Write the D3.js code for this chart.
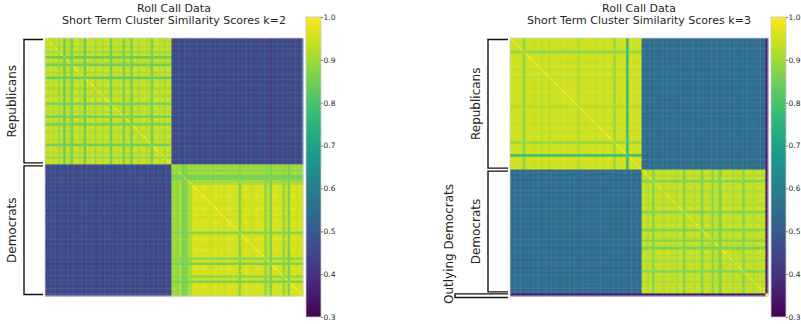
<!DOCTYPE html>
<html>
<head>
<meta charset="utf-8">
<script src="https://cdn.jsdelivr.net/npm/d3@7"></script>
<style>
  body { margin: 0; background: #fff; }
  text { font-family: "DejaVu Sans", sans-serif; fill: #262626; }
</style>
</head>
<body>
<div id="chart"></div>
<script>
const W = 801, H = 324
const vmin = 0.3, vmax = 1.0
const cbTicks = [0.3, 0.4, 0.5, 0.6, 0.7, 0.8, 0.9, 1.0]
const mainTitle = "Roll Call Data"

// k=2 : per-member agreement with own party (loyal) and with the other party (cross)
const k2Groups = ["Republicans", "Democrats"]
const k2RepLoyal = [0.95,0.93,0.96,0.92,0.95,0.90,0.94,0.84,0.95,0.91,
                    0.85,0.95,0.96,0.92,0.94,0.84,0.95,0.93,0.96,0.90,
                    0.95,0.94,0.91,0.95,0.96,0.85,0.93,0.95,0.92,0.96,
                    0.86,0.95,0.93,0.85,0.96,0.94,0.91,0.94,0.96,0.92,
                    0.93,0.85,0.95,0.96,0.92,0.95,0.90,0.96,0.94]
const k2DemLoyal = [0.89,0.90,0.88,0.91,0.85,0.86,0.90,0.91,0.96,0.97,
                    0.95,0.96,0.97,0.96,0.95,0.94,0.96,0.97,0.95,0.96,
                    0.94,0.96,0.97,0.96,0.95,0.96,0.87,0.95,0.97,0.96,
                    0.95,0.94,0.96,0.97,0.95,0.96,0.88,0.95,0.86,0.96,
                    0.97,0.95,0.96,0.88,0.95,0.86,0.96,0.97,0.95,0.96,0.95]
const k2RepCross = [0.46,0.45,0.47,0.46,0.44,0.46,0.47,0.45,0.46,0.44,
                    0.47,0.46,0.45,0.46,0.47,0.44,0.46,0.45,0.47,0.46,
                    0.45,0.46,0.43,0.46,0.47,0.45,0.46,0.44,0.46,0.47,
                    0.45,0.46,0.47,0.45,0.46,0.44,0.46,0.47,0.45,0.46,
                    0.43,0.46,0.45,0.47,0.46,0.44,0.46,0.45,0.46]
const k2DemCross = [0.47,0.46,0.47,0.46,0.45,0.46,0.47,0.46,0.45,0.46,
                    0.44,0.46,0.45,0.46,0.47,0.45,0.46,0.44,0.46,0.45,
                    0.46,0.47,0.45,0.46,0.44,0.46,0.45,0.46,0.47,0.45,
                    0.46,0.44,0.46,0.45,0.46,0.47,0.45,0.46,0.39,0.46,
                    0.45,0.46,0.44,0.46,0.47,0.45,0.46,0.45,0.46,0.44,0.46]

// k=3
const k3Groups = ["Republicans", "Democrats", "Outlying Democrats"]
const k3RepLoyal = [0.95,0.96,0.94,0.95,0.93,0.88,0.95,0.96,0.95,0.94,
                    0.96,0.95,0.93,0.96,0.95,0.93,0.95,0.96,0.94,0.95,
                    0.96,0.95,0.94,0.95,0.96,0.95,0.92,0.95,0.96,0.94,
                    0.95,0.96,0.95,0.93,0.96,0.95,0.94,0.95,0.96,0.95,
                    0.89,0.95,0.94,0.96,0.95,0.78,0.95,0.96,0.94,0.95,0.96]
const k3DemLoyal = [0.93,0.94,0.92,0.95,0.87,0.93,0.94,0.95,0.91,0.94,
                    0.95,0.93,0.94,0.91,0.95,0.94,0.87,0.93,0.95,0.94,
                    0.92,0.95,0.93,0.87,0.94,0.95,0.93,0.88,0.94,0.92,
                    0.86,0.95,0.94,0.93,0.95,0.91,0.94,0.93,0.95,0.87,
                    0.94,0.93,0.95,0.91,0.94,0.95,0.93,0.94]
const k3OutLoyal = [1.0]
const k3RepCross = [0.55,0.56,0.54,0.55,0.56,0.53,0.55,0.56,0.55,0.54,
                    0.56,0.55,0.54,0.56,0.55,0.54,0.55,0.56,0.54,0.55,
                    0.56,0.55,0.54,0.55,0.56,0.55,0.53,0.55,0.56,0.54,
                    0.55,0.56,0.55,0.54,0.56,0.55,0.54,0.55,0.56,0.55,
                    0.54,0.55,0.54,0.56,0.55,0.50,0.55,0.56,0.54,0.55,0.56]
const k3DemCross = [0.55,0.56,0.54,0.55,0.54,0.56,0.55,0.54,0.56,0.55,
                    0.54,0.55,0.56,0.55,0.54,0.56,0.55,0.54,0.55,0.56,
                    0.55,0.54,0.56,0.55,0.54,0.55,0.56,0.54,0.55,0.56,
                    0.54,0.55,0.56,0.55,0.54,0.55,0.56,0.55,0.54,0.55,
                    0.56,0.55,0.54,0.55,0.56,0.55,0.54,0.55]
const k3OutCross = [0.14]

const panels = [
  {k: 2, x0: 45, cbx: 306, bracketX: 24, groups: k2Groups,
   loyal: [k2RepLoyal, k2DemLoyal], cross: [k2RepCross, k2DemCross]},
  {k: 3, x0: 510, cbx: 771, bracketX: 488, groups: k3Groups,
   loyal: [k3RepLoyal, k3DemLoyal, k3OutLoyal], cross: [k3RepCross, k3DemCross, k3OutCross]}
]

const y0 = 38, size = 258
const cbTop = 17, cbBottom = 317, cbW = 15

const color = d3.scaleSequential(d3.interpolateViridis).domain([vmin, vmax])

var svg = d3.select("#chart").append("svg")
  .attr("width", W)
  .attr("height", H)

// colorbar gradient
var defs = svg.append("defs")
var grad = defs.append("linearGradient")
  .attr("id", "viridisGrad")
  .attr("x1", 0).attr("y1", 1).attr("x2", 0).attr("y2", 0)
d3.range(0, 1.0001, 0.05).forEach(function(t) {
  grad.append("stop")
    .attr("offset", t)
    .attr("stop-color", color(vmin + t * (vmax - vmin)))
})

panels.forEach(function(p) {
  // flatten members
  var members = []
  p.groups.forEach(function(g, gi) {
    p.loyal[gi].forEach(function(v, k) {
      members.push({g: gi, loyal: v, cross: p.cross[gi][k]})
    })
  })
  var n = members.length
  var cells = []
  for (let i = 0; i < n; i++) {
    for (let j = 0; j < n; j++) {
      var a = members[i], b = members[j], v
      if (i == j) v = Math.min(1, a.loyal + 0.03)
      else if (a.g == b.g) v = Math.min(a.loyal, b.loyal)
      else v = (a.cross + b.cross) / 2
      cells.push({i: i, j: j, v: v})
    }
  }

  var x = d3.scaleBand().domain(d3.range(n)).range([p.x0, p.x0 + size])
  var y = d3.scaleBand().domain(d3.range(n)).range([y0, y0 + size])
  var bw = x.bandwidth()

  var g = svg.append("g")
  g.selectAll("rect.cell")
    .data(cells)
    .enter().append("rect")
    .attr("class", "cell")
    .attr("x", d => x(d.j))
    .attr("y", d => y(d.i))
    .attr("width", bw + 0.4)
    .attr("height", bw + 0.4)
    .attr("fill", d => color(d.v))

  g.append("rect")
    .attr("x", p.x0).attr("y", y0)
    .attr("width", size).attr("height", size)
    .attr("fill", "none")
    .attr("stroke", "#d0d0d0")
    .attr("stroke-width", 0.8)

  // title
  var cx = p.x0 + size / 2
  svg.append("text")
    .attr("x", cx).attr("y", 12)
    .attr("text-anchor", "middle")
    .style("font-size", "11px")
    .text(mainTitle)
  svg.append("text")
    .attr("x", cx).attr("y", 24)
    .attr("text-anchor", "middle")
    .style("font-size", "11px")
    .text("Short Term Cluster Similarity Scores k=" + p.k)

  // group brackets
  var start = 0
  p.groups.forEach(function(name, gi) {
    var cnt = p.loyal[gi].length
    var top = y(start), bottom = y(start + cnt - 1) + bw
    var outlier = cnt < 3
    var bx = outlier ? p.bracketX - 33 : p.bracketX
    var yt = top + 1.5
    var yb = bottom - 1.5
    if (outlier) { yt = top + 0.5; yb = bottom + 1.5 }
    svg.append("path")
      .attr("d", "M" + (p.x0 - 2) + "," + yt + "H" + bx + "V" + yb + "H" + (p.x0 - 2))
      .attr("fill", "none")
      .attr("stroke", "#111")
      .attr("stroke-width", 1.4)
    var ly = outlier ? 244 : (top + bottom) / 2
    var lx = outlier ? bx - 6 : bx - 12
    svg.append("text")
      .attr("transform", "translate(" + lx + "," + ly + ") rotate(-90)")
      .attr("text-anchor", "middle")
      .attr("dy", "0.35em")
      .style("font-size", "12px")
      .text(name)
    start += cnt
  })

  // colorbar
  var cb = d3.scaleLinear().domain([vmin, vmax]).range([cbBottom, cbTop])
  svg.append("rect")
    .attr("x", p.cbx).attr("y", cbTop)
    .attr("width", cbW).attr("height", cbBottom - cbTop)
    .attr("fill", "url(#viridisGrad)")
    .attr("stroke", "#c8c8c8")
    .attr("stroke-width", 0.8)
  var ax = svg.append("g")
    .attr("transform", "translate(" + (p.cbx + cbW) + ",0)")
    .call(d3.axisRight(cb).tickValues(cbTicks).tickSize(2).tickPadding(0.5).tickFormat(d3.format(".1f")))
  ax.select(".domain").remove()
  ax.selectAll("line").attr("stroke", "#333").attr("stroke-width", 0.6)
  ax.selectAll("text").style("font-size", "7.5px").style("font-family", "DejaVu Sans").attr("fill", "#262626")
})
</script>
</body>
</html>
